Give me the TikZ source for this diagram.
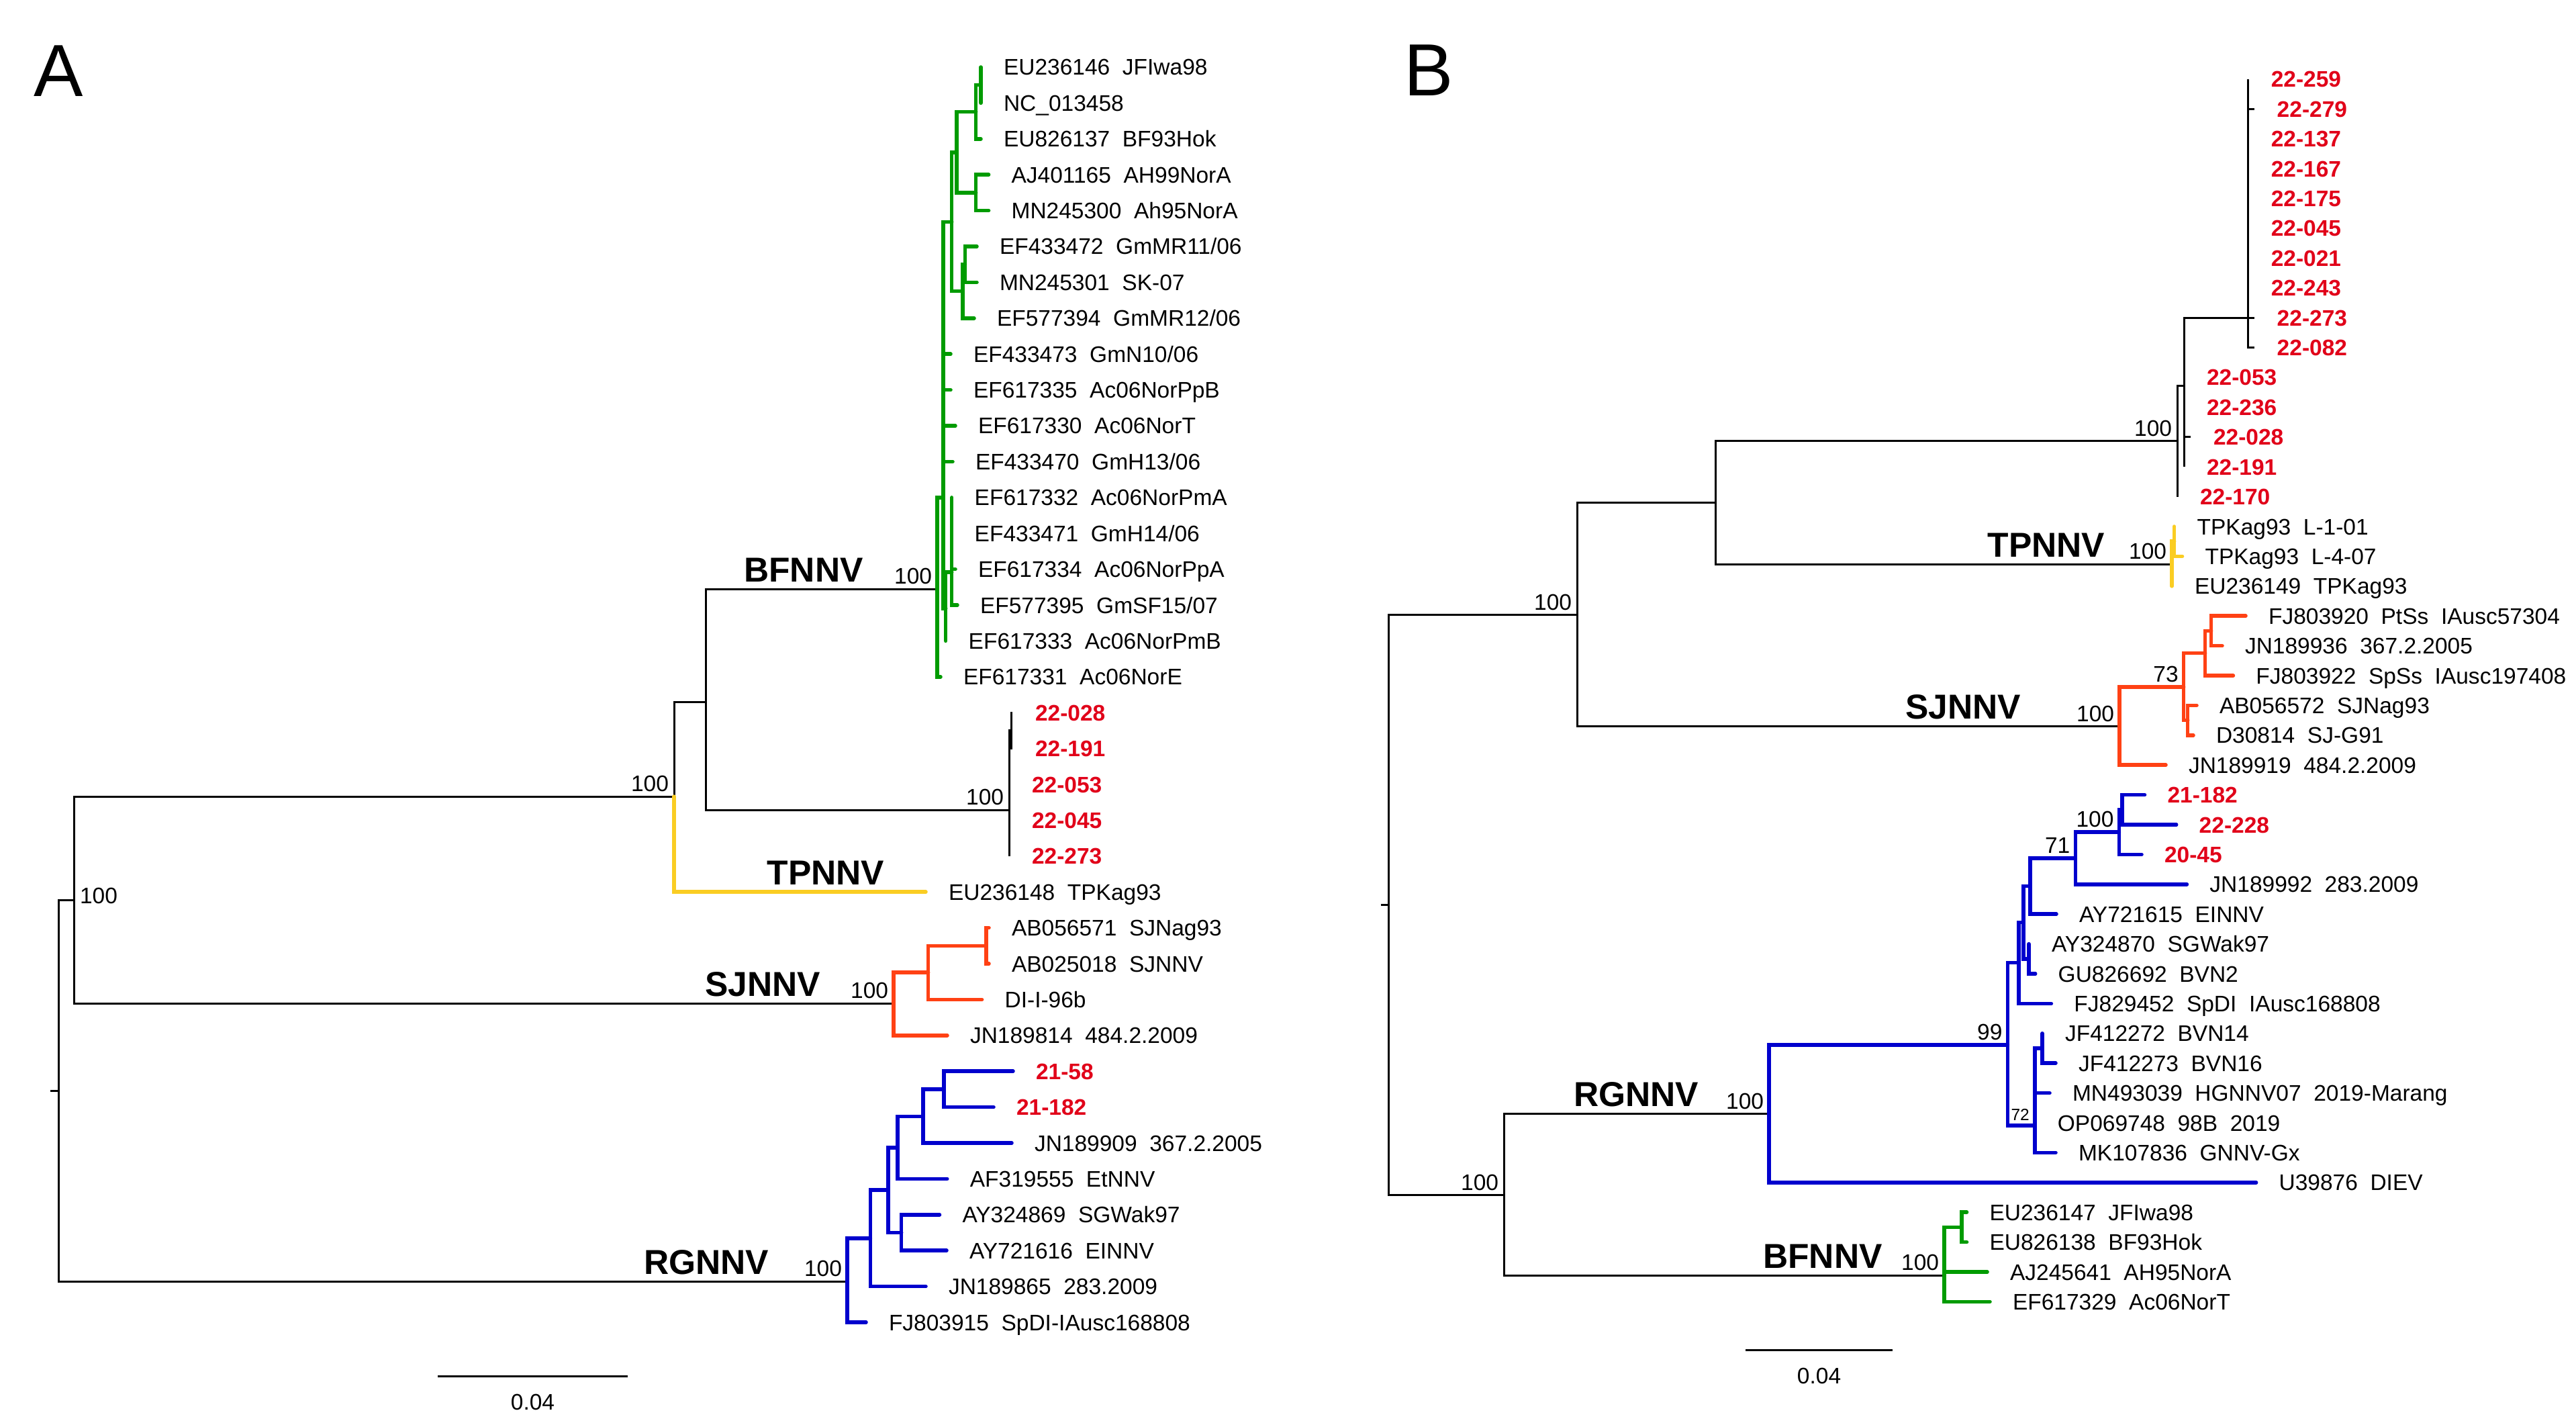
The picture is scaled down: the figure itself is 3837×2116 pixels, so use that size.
\documentclass[tikz,border=0pt]{standalone}
\usepackage{fontspec}
\setmainfont{Liberation Sans}
\definecolor{bfgreen}{RGB}{0,155,0}
\definecolor{rgblue}{RGB}{0,0,205}
\definecolor{sjorange}{RGB}{255,65,20}
\definecolor{tpyellow}{RGB}{250,205,35}
\definecolor{isored}{RGB}{225,0,25}
\begin{document}
\begin{tikzpicture}[
          x=0.2pt,
          y=-0.2pt,
          br/.style={line width=0.6pt, black},
          cbr/.style={line width=1.1pt, line cap=round},
          greenbr/.style={cbr, bfgreen},
          bluebr/.style={cbr, rgblue},
          orangebr/.style={cbr, sjorange},
          yellowbr/.style={cbr, tpyellow},
          lf/.style={anchor=west, inner xsep=6.6pt, inner ysep=0pt, text height=4.8pt, text depth=0pt, font=\fontsize{6.7}{8}\selectfont},
          rl/.style={lf, text=isored, font=\fontsize{6.7}{8}\selectfont\bfseries},
          bs/.style={anchor=south east, inner sep=0pt, xshift=-1.4pt, yshift=1.3pt, text height=4.8pt, text depth=0pt, font=\fontsize{6.7}{8}\selectfont},
          bsr/.style={bs, anchor=west, xshift=3pt, yshift=0pt},
          bsm/.style={bs, text height=3.5pt, font=\fontsize{4.9}{6}\selectfont},
          cl/.style={anchor=south, inner sep=0pt, yshift=2pt, text height=7.4pt, text depth=0pt, font=\fontsize{10.3}{12}\selectfont\bfseries},
          pn/.style={inner sep=0pt, text height=15.8pt, text depth=0pt, font=\fontsize{22}{26}\selectfont},
          sc/.style={inner sep=0pt, text height=4.8pt, text depth=0pt, font=\fontsize{6.7}{8}\selectfont},
        ]
      \fill[white] (0,0) rectangle (3837,2116);
      \useasboundingbox (0,0) rectangle (3837,2116);
      % panel letters
      \node[pn] (pa) at (87.5,104.5) {A};
      \node[pn] (pb) at (2128,103) {B};

      % ---------- tree A ----------
      \coordinate (astub) at (75,1624);
      \coordinate (aroot) at (87.5,1624);
      \coordinate (ain) at (110,1340);
      \coordinate (atop) at (1004,1186);
      \coordinate (abf) at (1051,1045);
      \coordinate (bfa0) at (1396,877);
      \coordinate (bfa1) at (1405,741);
      \coordinate (bfa2) at (1417.7,330.3);
      \coordinate (bfa3) at (1425,226.8);
      \coordinate (bfa4) at (1453.6,166.7);
      \coordinate (bfa5) at (1461,126.7);
      \coordinate (bfa6) at (1453.6,286.9);
      \coordinate (bfa7) at (1433.8,433.7);
      \coordinate (bfa8) at (1437.4,393.7);
      \coordinate (bfa9) at (1408.7,906);
      \coordinate (bfa10) at (1417.7,852);
      \coordinate (isa0) at (1503,1206);
      \coordinate (isa1) at (1506,1087.9);
      \coordinate (sja0) at (1331,1494);
      \coordinate (sja1) at (1382.6,1448);
      \coordinate (sja2) at (1469,1408.3);
      \coordinate (rga0) at (1262,1908);
      \coordinate (rga1) at (1296.4,1844);
      \coordinate (rga2) at (1323,1772);
      \coordinate (rga3) at (1336.8,1709);
      \coordinate (rga4) at (1342.6,1835.5);
      \coordinate (rga5) at (1375,1662.5);
      \coordinate (rga6) at (1406,1621.9);

      \node[lf] (a1) at (1461,100) {EU236146\ \ JFIwa98};
      \node[lf] (a2) at (1461,153.4) {NC\_013458};
      \node[lf] (a3) at (1461,206.8) {EU826137\ \ BF93Hok};
      \node[lf] (a4) at (1472.6,260.2) {AJ401165\ \ AH99NorA};
      \node[lf] (a5) at (1472.6,313.6) {MN245300\ \ Ah95NorA};
      \node[lf] (a6) at (1455,367) {EF433472\ \ GmMR11/06};
      \node[lf] (a7) at (1455,420.4) {MN245301\ \ SK-07};
      \node[lf] (a8) at (1451,473.8) {EF577394\ \ GmMR12/06};
      \node[lf] (a9) at (1416,527.2) {EF433473\ \ GmN10/06};
      \node[lf] (a10) at (1416,580.6) {EF617335\ \ Ac06NorPpB};
      \node[lf] (a11) at (1423,634) {EF617330\ \ Ac06NorT};
      \node[lf] (a12) at (1419,687.4) {EF433470\ \ GmH13/06};
      \node[lf] (a13) at (1417.7,740.8) {EF617332\ \ Ac06NorPmA};
      \node[lf] (a14) at (1417.7,794.2) {EF433471\ \ GmH14/06};
      \node[lf] (a15) at (1423,847.6) {EF617334\ \ Ac06NorPpA};
      \node[lf] (a16) at (1426,901) {EF577395\ \ GmSF15/07};
      \node[lf] (a17) at (1408.7,954.4) {EF617333\ \ Ac06NorPmB};
      \node[lf] (a18) at (1401,1007.8) {EF617331\ \ Ac06NorE};
      \node[rl] (a19) at (1508,1061.2) {22-028};
      \node[rl] (a20) at (1508,1114.6) {22-191};
      \node[rl] (a21) at (1503,1168) {22-053};
      \node[rl] (a22) at (1503,1221.4) {22-045};
      \node[rl] (a23) at (1503,1274.8) {22-273};
      \node[lf] (a24) at (1379,1328.2) {EU236148\ \ TPKag93};
      \node[lf] (a25) at (1473,1381.6) {AB056571\ \ SJNag93};
      \node[lf] (a26) at (1473,1435) {AB025018\ \ SJNNV};
      \node[lf] (a27) at (1462.6,1488.4) {DI-I-96b};
      \node[lf] (a28) at (1411,1541.8) {JN189814\ \ 484.2.2009};
      \node[rl] (a29) at (1509,1595.2) {21-58};
      \node[rl] (a30) at (1480,1648.6) {21-182};
      \node[lf] (a31) at (1507,1702) {JN189909\ \ 367.2.2005};
      \node[lf] (a32) at (1410.8,1755.4) {AF319555\ \ EtNNV};
      \node[lf] (a33) at (1399.5,1808.8) {AY324869\ \ SGWak97};
      \node[lf] (a34) at (1410,1862.2) {AY721616\ \ EINNV};
      \node[lf] (a35) at (1379,1915.6) {JN189865\ \ 283.2009};
      \node[lf] (a36) at (1290,1969) {FJ803915\ \ SpDI-IAusc168808};

      \draw[br] (astub) -- (aroot) (aroot) |- (ain) (aroot) |- (rga0)
        (ain) |- (atop) (ain) |- (sja0) (atop) |- (abf)
        (abf) |- (bfa0) (abf) |- (isa0);
      \draw[yellowbr] (atop) |- (a24.west);
      \draw[greenbr] (bfa0) |- (bfa1) (bfa0) |- (a18.west)
        (bfa1) |- (bfa2) (bfa1) |- (a9.west) (bfa1) |- (a10.west) (bfa1) |- (a11.west)
        (bfa1) |- (a12.west) (bfa1) |- (bfa9)
        (bfa2) |- (bfa3) (bfa2) |- (bfa7)
        (bfa3) |- (bfa4) (bfa3) |- (bfa6)
        (bfa4) |- (bfa5) (bfa4) |- (a3.west)
        (bfa5) |- (a1.west) (bfa5) |- (a2.west)
        (bfa6) |- (a4.west) (bfa6) |- (a5.west)
        (bfa7) |- (bfa8) (bfa7) |- (a8.west)
        (bfa8) |- (a6.west) (bfa8) |- (a7.west)
        (bfa9) |- (bfa10) (bfa9) |- (a17.west)
        (bfa10) |- (a13.west) (bfa10) |- (a15.west) (bfa10) |- (a16.west);
      \draw[br] (isa0) |- (isa1) (isa0) |- (a21.west) (isa0) |- (a23.west)
        (isa1) |- (a19.west) (isa1) |- (a20.west);
      \draw[orangebr] (sja0) |- (sja1) (sja0) |- (a28.west)
        (sja1) |- (sja2) (sja1) |- (a27.west)
        (sja2) |- (a25.west) (sja2) |- (a26.west);
      \draw[bluebr] (rga0) |- (rga1) (rga0) |- (a36.west)
        (rga1) |- (rga2) (rga1) |- (a35.west)
        (rga2) |- (rga3) (rga2) |- (rga4)
        (rga4) |- (a33.west) (rga4) |- (a34.west)
        (rga3) |- (rga5) (rga3) |- (a32.west)
        (rga5) |- (rga6) (rga5) |- (a31.west)
        (rga6) |- (a29.west) (rga6) |- (a30.west);

      \node[bsr] at (ain) {100};
      \node[bs] at (atop) {100};
      \node[bs] at (bfa0) {100};
      \node[bs] at (isa0) {100};
      \node[bs] at (sja0) {100};
      \node[bs] at (rga0) {100};
      \node[cl] (bfna) at (1197,877) {BFNNV};
      \node[cl] (tpna) at (1230,1328.2) {TPNNV};
      \node[cl] (sjna) at (1136,1494) {SJNNV};
      \node[cl] (rgna) at (1052,1908) {RGNNV};

      \coordinate (sca0) at (652,2049);
      \coordinate (sca1) at (935,2049);
      \draw[br] (sca0) -- (sca1) node[midway, sc, yshift=-7.6pt] {0.04};

      % ---------- tree B ----------
      \coordinate (bstub) at (2056.5,1347.7);
      \coordinate (broot) at (2068.6,1347.7);
      \coordinate (bup) at (2349,915.7);
      \coordinate (bmid) at (2555,748.4);
      \coordinate (blow) at (2240,1779.7);
      \coordinate (isb0) at (3243,657);
      \coordinate (isb1) at (3253,575);
      \coordinate (isb2) at (3348.7,473.2);
      \coordinate (tpb0) at (3235,840);
      \coordinate (tpb1) at (3238.6,806.2);
      \coordinate (sjb0) at (3157,1081.8);
      \coordinate (sjb1) at (3252.6,1023);
      \coordinate (sjb2) at (3284.6,972.7);
      \coordinate (sjb3) at (3293.6,939.4);
      \coordinate (sjb4) at (3258.7,1072.6);
      \coordinate (rgb0) at (2635,1658.7);
      \coordinate (rgb1) at (2990.4,1556);
      \coordinate (rgb2) at (3007,1433.7);
      \coordinate (rgb3) at (3014,1373.7);
      \coordinate (rgb4) at (3022,1427.8);
      \coordinate (rgb5) at (3024,1319.5);
      \coordinate (rgb6) at (3091.3,1278);
      \coordinate (rgb7) at (3156.4,1239.1);
      \coordinate (rgb8) at (3161,1205.8);
      \coordinate (rgb9) at (3030.8,1676);
      \coordinate (rgb10) at (3042,1561);
      \coordinate (bfb0) at (2896,1899);
      \coordinate (bfb1) at (2922,1827.4);

      \node[rl] (b1) at (3348.7,118) {22-259};
      \node[rl] (b2) at (3357.7,162.4) {22-279};
      \node[rl] (b3) at (3348.7,206.8) {22-137};
      \node[rl] (b4) at (3348.7,251.2) {22-167};
      \node[rl] (b5) at (3348.7,295.6) {22-175};
      \node[rl] (b6) at (3348.7,340) {22-045};
      \node[rl] (b7) at (3348.7,384.4) {22-021};
      \node[rl] (b8) at (3348.7,428.8) {22-243};
      \node[rl] (b9) at (3357.7,473.2) {22-273};
      \node[rl] (b10) at (3357.7,517.6) {22-082};
      \node[rl] (b11) at (3253,562) {22-053};
      \node[rl] (b12) at (3253,606.4) {22-236};
      \node[rl] (b13) at (3263,650.8) {22-028};
      \node[rl] (b14) at (3253,695.2) {22-191};
      \node[rl] (b15) at (3243,739.6) {22-170};
      \node[lf] (b16) at (3238.6,784) {TPKag93\ \ L-1-01};
      \node[lf] (b17) at (3250.5,828.4) {TPKag93\ \ L-4-07};
      \node[lf] (b18) at (3235,872.8) {EU236149\ \ TPKag93};
      \node[lf] (b19) at (3345,917.2) {FJ803920\ \ PtSs\ \ IAusc57304};
      \node[lf] (b20) at (3310,961.6) {JN189936\ \ 367.2.2005};
      \node[lf] (b21) at (3326.4,1006) {FJ803922\ \ SpSs\ \ IAusc197408};
      \node[lf] (b22) at (3272,1050.4) {AB056572\ \ SJNag93};
      \node[lf] (b23) at (3267,1094.8) {D30814\ \ SJ-G91};
      \node[lf] (b24) at (3226,1139.2) {JN189919\ \ 484.2.2009};
      \node[rl] (b25) at (3194.5,1183.6) {21-182};
      \node[rl] (b26) at (3241.7,1228) {22-228};
      \node[rl] (b27) at (3190,1272.4) {20-45};
      \node[lf] (b28) at (3257.4,1316.8) {JN189992\ \ 283.2009};
      \node[lf] (b29) at (3063,1361.2) {AY721615\ \ EINNV};
      \node[lf] (b30) at (3022,1405.6) {AY324870\ \ SGWak97};
      \node[lf] (b31) at (3031.7,1450) {GU826692\ \ BVN2};
      \node[lf] (b32) at (3055.4,1494.4) {FJ829452\ \ SpDI\ \ IAusc168808};
      \node[lf] (b33) at (3042,1538.8) {JF412272\ \ BVN14};
      \node[lf] (b34) at (3062,1583.2) {JF412273\ \ BVN16};
      \node[lf] (b35) at (3053,1627.6) {MN493039\ \ HGNNV07\ \ 2019-Marang};
      \node[lf] (b36) at (3030.8,1672) {OP069748\ \ 98B\ \ 2019};
      \node[lf] (b37) at (3062,1716.4) {MK107836\ \ GNNV-Gx};
      \node[lf] (b38) at (3360.6,1760.8) {U39876\ \ DIEV};
      \node[lf] (b39) at (2929.5,1805.2) {EU236147\ \ JFIwa98};
      \node[lf] (b40) at (2929.5,1849.6) {EU826138\ \ BF93Hok};
      \node[lf] (b41) at (2960,1894) {AJ245641\ \ AH95NorA};
      \node[lf] (b42) at (2964,1938.4) {EF617329\ \ Ac06NorT};

      \draw[br] (bstub) -- (broot) (broot) |- (bup) (broot) |- (blow)
        (bup) |- (bmid) (bup) |- (sjb0) (bmid) |- (isb0) (bmid) |- (tpb0)
        (blow) |- (rgb0) (blow) |- (bfb0);
      \draw[br] (isb0) |- (isb1) (isb0) |- (b15.west)
        (isb1) |- (isb2) (isb1) |- (b11.west) (isb1) |- (b13.west) (isb1) |- (b14.west)
        (isb2) |- (b1.west) (isb2) |- (b2.west) (isb2) |- (b9.west) (isb2) |- (b10.west);
      \draw[yellowbr] (tpb0) |- (tpb1) (tpb0) |- (b18.west)
        (tpb1) |- (b16.west) (tpb1) |- (b17.west);
      \draw[orangebr] (sjb0) |- (sjb1) (sjb0) |- (b24.west)
        (sjb1) |- (sjb2) (sjb1) |- (sjb4)
        (sjb2) |- (sjb3) (sjb2) |- (b21.west)
        (sjb3) |- (b19.west) (sjb3) |- (b20.west)
        (sjb4) |- (b22.west) (sjb4) |- (b23.west);
      \draw[bluebr] (rgb0) |- (rgb1) (rgb0) |- (b38.west)
        (rgb1) |- (rgb2) (rgb1) |- (rgb9)
        (rgb2) |- (rgb3) (rgb2) |- (b32.west)
        (rgb3) |- (rgb5) (rgb3) |- (rgb4)
        (rgb4) |- (b30.west) (rgb4) |- (b31.west)
        (rgb5) |- (rgb6) (rgb5) |- (b29.west)
        (rgb6) |- (rgb7) (rgb6) |- (b28.west)
        (rgb7) |- (rgb8) (rgb7) |- (b27.west)
        (rgb8) |- (b25.west) (rgb8) |- (b26.west)
        (rgb9) |- (rgb10) (rgb9) |- (b35.west) (rgb9) |- (b36.west) (rgb9) |- (b37.west)
        (rgb10) |- (b33.west) (rgb10) |- (b34.west);
      \draw[greenbr] (bfb0) |- (bfb1) (bfb0) |- (b41.west) (bfb0) |- (b42.west)
        (bfb1) |- (b39.west) (bfb1) |- (b40.west);

      \node[bs] at (bup) {100};
      \node[bs] at (isb0) {100};
      \node[bs] at (tpb0) {100};
      \node[bs] at (sjb0) {100};
      \node[bs] at (sjb1) {73};
      \node[bs] at (rgb7) {100};
      \node[bs] at (rgb6) {71};
      \node[bs] at (rgb1) {99};
      \node[bsm] at (rgb9) {72};
      \node[bs] at (rgb0) {100};
      \node[bs] at (bfb0) {100};
      \node[bs] at (blow) {100};
      \node[cl] (tpnb) at (3048,840) {TPNNV};
      \node[cl] (sjnb) at (2924,1081.8) {SJNNV};
      \node[cl] (rgnb) at (2437,1658.7) {RGNNV};
      \node[cl] (bfnb) at (2715,1899) {BFNNV};

      \coordinate (scb0) at (2600,2010);
      \coordinate (scb1) at (2819,2010);
      \draw[br] (scb0) -- (scb1) node[midway, sc, yshift=-7.6pt] {0.04};
    \end{tikzpicture}
\end{document}
